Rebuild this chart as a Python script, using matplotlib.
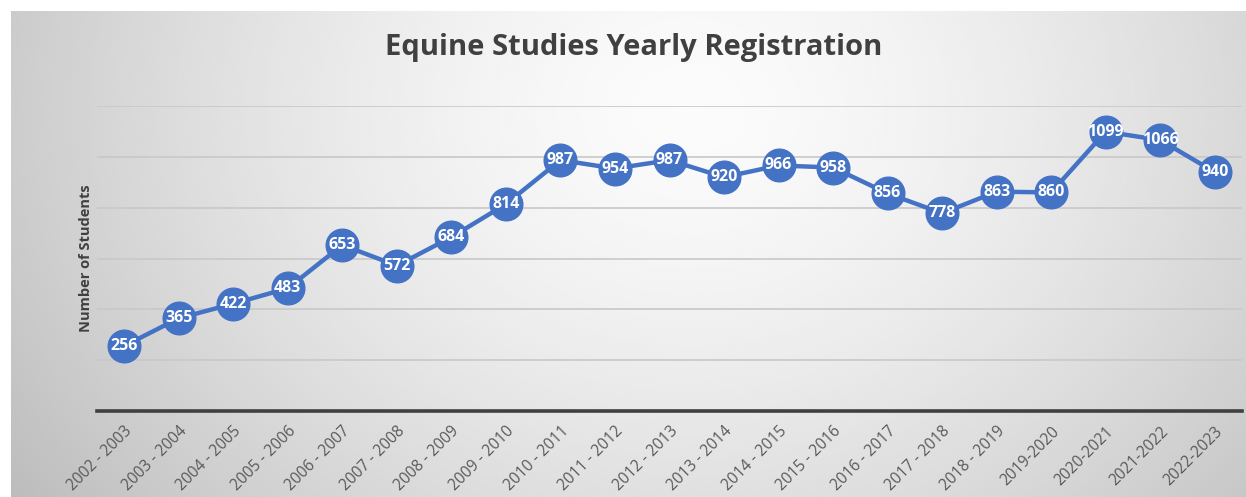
import matplotlib
matplotlib.use('Agg')
import matplotlib.pyplot as plt
import numpy as np

# data
years = ['2002 - 2003', '2003 - 2004', '2004 - 2005', '2005 - 2006', '2006 - 2007',
         '2007 - 2008', '2008 - 2009', '2009 - 2010', '2010 - 2011', '2011 - 2012',
         '2012 - 2013', '2013 - 2014', '2014 - 2015', '2015 - 2016', '2016 - 2017',
         '2017 - 2018', '2018 - 2019', '2019-2020', '2020-2021', '2021-2022', '2022-2023']
students = [256, 365, 422, 483, 653, 572, 684, 814, 987, 954, 987, 920, 966, 958,
            856, 778, 863, 860, 1099, 1066, 940]
grid_levels = [200, 400, 600, 800, 1000, 1200]

blue = '#4472C4'
dark = '#404040'

fig = plt.figure(figsize=(12.46, 4.97), dpi=100)
fig.patch.set_facecolor('white')

# radial gray gradient behind the chart (chart box starts ~11px in from left/top)
bg = fig.add_axes([11 / 1246, 0, 1 - 11 / 1246, 1 - 11 / 497], zorder=0)
yy, xx = np.mgrid[0:1:300j, 0:1:800j]
dist = np.sqrt(((xx - 0.55) / 0.62) ** 2 + ((yy - 0.2) / 1.3) ** 2)
shade = np.clip(0.985 - 0.22 * dist ** 1.5, 0.74, 0.985)
bg.imshow(shade, cmap='gray', vmin=0, vmax=1, aspect='auto', interpolation='bicubic')
bg.axis('off')

ax = fig.add_axes([97 / 1246, 1 - 411 / 497, (1242 - 97) / 1246, (411 - 106) / 497], zorder=1)
ax.patch.set_alpha(0)

x = np.arange(len(years))
ax.plot(x, students, color=blue, lw=3.2, marker='o', ms=23.5, mfc=blue, mec=blue,
        clip_on=False, zorder=3)
for xi, v in zip(x, students):
    ax.text(xi, v, str(v), color='white', fontsize=11.5, fontweight='bold',
            family='Open Sans', ha='center', va='center', zorder=4)

ax.set_xlim(-0.5, len(years) - 0.5)
ax.set_ylim(0, 1200)
for g in grid_levels:
    ax.axhline(g, color='#c8c8c8', lw=1.2, zorder=1)

for s in ['top', 'right', 'left']:
    ax.spines[s].set_visible(False)
ax.spines['bottom'].set_color(dark)
ax.spines['bottom'].set_linewidth(2.6)

ax.set_yticks([])
ax.set_xticks(x)
ax.set_xticklabels(years, rotation=45, ha='right', rotation_mode='anchor',
                   fontsize=11.2, color='#595959', family='Open Sans')
ax.tick_params(axis='x', length=0, pad=9)

ax.set_ylabel('Number of Students', fontsize=10.5, fontweight='bold', color=dark,
              family='Open Sans', labelpad=3)

fig.text(634 / 1246, 1 - 47 / 497, 'Equine Studies Yearly Registration', fontsize=21,
         fontweight='bold', color=dark, family='Open Sans', ha='center', va='center')

fig.savefig('out.png', dpi=100)
